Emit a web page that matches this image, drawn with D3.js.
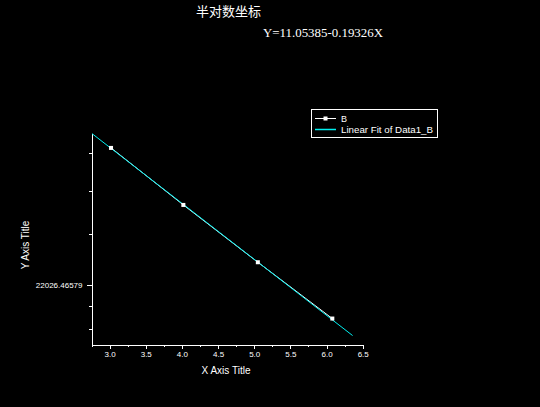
<!DOCTYPE html>
<html>
<head>
<meta charset="utf-8">
<script src="https://cdn.jsdelivr.net/npm/d3@7"></script>
<style>
  html, body { margin: 0; padding: 0; background: #000; }
  svg { display: block; }
</style>
</head>
<body>
<div id="chart"></div>
<script>
// data
var xs = [3.02, 4.02, 5.05, 6.08];
var ys = [35300, 29000, 23800, 19600];
var fitIntercept = 11.05385, fitSlope = -0.19326;
var fitRange = [2.757, 6.36];
var xTicks = [3.0, 3.5, 4.0, 4.5, 5.0, 5.5, 6.0, 6.5];
var legendLabels = ["B", "Linear Fit of Data1_B"];
var titleText = "半对数坐标";
var eqText = "Y=11.05385-0.19326X";

var width = 540, height = 407;
var cyan = "#00f0f0";

var svg = d3.select("#chart").append("svg")
  .attr("width", width)
  .attr("height", height)
  .style("background", "#000");

var x = d3.scaleLinear()
  .domain([2.743, 6.5])
  .range([91, 362.7]);

var y = d3.scaleLog()
  .base(Math.E)
  .domain([Math.exp(9.7945), Math.exp(10.5231)])
  .range([344.3, 133]);

// major tick at e^10, minors linearly spaced between powers of e
var e9 = Math.exp(9), e10 = Math.exp(10), e11 = Math.exp(11);
var yMinor = [];
for (var k = 1; k < 9; k++) {
  yMinor.push(e9 + k * (e10 - e9) / 9);
  yMinor.push(e10 + k * (e11 - e10) / 9);
}
yMinor = yMinor.filter(function(v) {
  return v >= y.domain()[0] && v <= y.domain()[1];
});

var xMinor = xTicks.slice(0, -1).map(function(t) { return t + 0.25; })
  .concat([2.75]);

var axisG = svg.append("g")
  .attr("shape-rendering", "crispEdges");

// x axis
axisG.append("g")
  .attr("transform", "translate(0,344.5)")
  .call(d3.axisBottom(x).tickValues(xTicks).tickSize(4).tickSizeOuter(0)
    .tickFormat(d3.format(".1f")))
  .call(function(g) {
    g.select(".domain").attr("stroke", "#fff");
    g.selectAll(".tick line").attr("stroke", "#fff");
    g.selectAll(".tick text")
      .attr("fill", "#fff")
      .attr("font-family", "Liberation Sans, Arial, sans-serif")
      .attr("font-size", "8px")
      .attr("dy", "0.71em")
      .attr("y", 7);
  });

axisG.append("g")
  .attr("transform", "translate(0,344.5)")
  .call(d3.axisBottom(x).tickValues(xMinor).tickSize(2).tickFormat(""))
  .call(function(g) {
    g.select(".domain").remove();
    g.selectAll(".tick line").attr("stroke", "#fff");
  });

// y axis
axisG.append("g")
  .attr("transform", "translate(91.5,0)")
  .call(d3.axisLeft(y).tickValues([e10]).tickSize(5).tickSizeOuter(0)
    .tickFormat(function(d) { return d3.format(".5f")(d); }))
  .call(function(g) {
    g.select(".domain").attr("stroke", "#fff");
    g.selectAll(".tick line").attr("stroke", "#fff");
    g.selectAll(".tick text")
      .attr("fill", "#fff")
      .attr("font-family", "Liberation Sans, Arial, sans-serif")
      .attr("font-size", "8px")
      .attr("x", -9);
  });

axisG.append("g")
  .attr("transform", "translate(91.5,0)")
  .call(d3.axisLeft(y).tickValues(yMinor).tickSize(3).tickFormat(""))
  .call(function(g) {
    g.select(".domain").remove();
    g.selectAll(".tick line").attr("stroke", "#fff");
  });

// axis titles
svg.append("text")
  .attr("x", 226)
  .attr("y", 374)
  .attr("text-anchor", "middle")
  .attr("font-family", "Liberation Sans, Arial, sans-serif")
  .attr("font-size", "10px")
  .attr("fill", "#fff")
  .text("X Axis Title");

svg.append("text")
  .attr("transform", "translate(29,245) rotate(-90)")
  .attr("text-anchor", "middle")
  .attr("font-family", "Liberation Sans, Arial, sans-serif")
  .attr("font-size", "10px")
  .attr("fill", "#fff")
  .text("Y Axis Title");

// data line + fit line
var pts = xs.map(function(d, i) { return [d, ys[i]]; });

var line = d3.line()
  .x(function(d) { return x(d[0]); })
  .y(function(d) { return y(d[1]); });

svg.append("path")
  .datum(pts)
  .attr("fill", "none")
  .attr("stroke", "#fff")
  .attr("stroke-width", 1)
  .attr("d", line);

var fitPts = fitRange.map(function(v) {
  return [v, Math.exp(fitIntercept + fitSlope * v)];
});

svg.append("path")
  .datum(fitPts)
  .attr("fill", "none")
  .attr("stroke", cyan)
  .attr("stroke-width", 1)
  .attr("d", line);

svg.selectAll("rect.pt")
  .data(pts)
  .enter().append("rect")
  .attr("class", "pt")
  .attr("x", function(d) { return x(d[0]) - 2; })
  .attr("y", function(d) { return y(d[1]) - 2; })
  .attr("width", 4)
  .attr("height", 4)
  .attr("fill", "#fff");

// legend
var legend = svg.append("g")
  .attr("transform", "translate(311,109)");

legend.append("rect")
  .attr("x", 0.5).attr("y", 0.5)
  .attr("width", 126).attr("height", 28)
  .attr("fill", "none")
  .attr("stroke", "#fff")
  .attr("shape-rendering", "crispEdges");

legend.append("line")
  .attr("x1", 4).attr("x2", 25).attr("y1", 9.5).attr("y2", 9.5)
  .attr("stroke", "#fff")
  .attr("shape-rendering", "crispEdges");
legend.append("rect")
  .attr("x", 12.5).attr("y", 7.5).attr("width", 4).attr("height", 4)
  .attr("fill", "#fff");
legend.append("line")
  .attr("x1", 4).attr("x2", 25).attr("y1", 20.5).attr("y2", 20.5)
  .attr("stroke", cyan)
  .attr("stroke-width", 1.5);

legend.selectAll("text.lg")
  .data(legendLabels)
  .enter().append("text")
  .attr("class", "lg")
  .attr("x", 30)
  .attr("y", function(d, i) { return 12.5 + i * 11; })
  .attr("font-family", "Liberation Sans, Arial, sans-serif")
  .attr("font-size", "9px")
  .attr("fill", "#fff")
  .each(function(d, i) {
    if (i === 1) {
      d3.select(this).attr("textLength", 92).attr("lengthAdjust", "spacingAndGlyphs");
    }
  })
  .text(function(d) { return d; });

// titles
svg.append("text")
  .attr("x", 196)
  .attr("y", 16)
  .attr("font-family", "Noto Sans CJK SC, sans-serif")
  .attr("font-size", "13px")
  .attr("fill", "#fff")
  .text(titleText);

svg.append("text")
  .attr("x", 263)
  .attr("y", 37)
  .attr("font-family", "Liberation Serif, Times New Roman, serif")
  .attr("font-size", "13px")
  .attr("fill", "#fff")
  .attr("textLength", 120)
  .attr("lengthAdjust", "spacingAndGlyphs")
  .text(eqText);
</script>
</body>
</html>
